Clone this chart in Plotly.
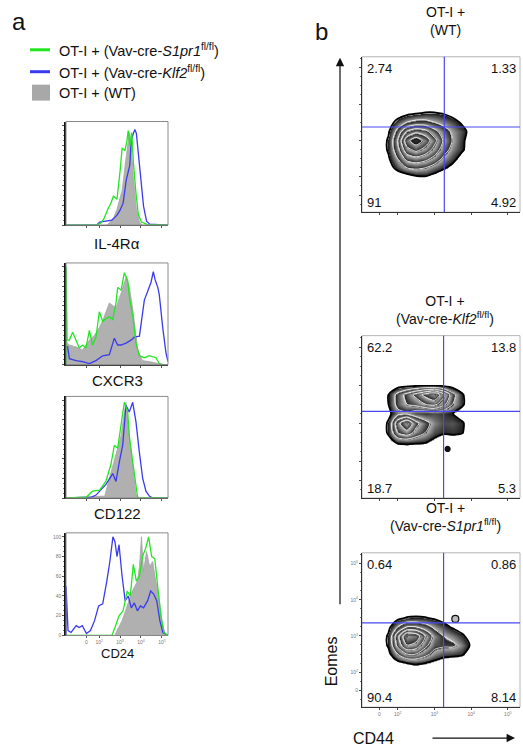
import plotly.graph_objects as go

FONT = "Liberation Sans, Arial, sans-serif"
W, H = 523, 752

# ---------------- data: histograms (x = % of display width, y = % of max) ----------------
HIST_LABELS = ["IL-4R\u03b1", "CXCR3", "CD122", "CD24"]

GREEN_X = [
    [0, 30, 34, 37, 41, 44, 46.5, 50, 53, 55, 57.8, 59.5, 61, 62.7, 64.4, 66, 68.6, 71, 74, 80, 100],
    [0, 0, 1, 3.3, 6.5, 9.8, 13, 16.3, 19.6, 22.9, 26, 29.4, 32.7, 36, 39.2, 42.5, 45.8, 49, 50.7, 54,
     57.2, 60.5, 62, 65.4, 68.6, 71.9, 76.8, 81.7, 88.2, 91.5, 95, 100],
    [0, 20, 26, 33, 39, 44, 47.4, 50.7, 54, 57.2, 60.5, 62, 65.4, 68.6, 70.3, 100],
    [0, 45, 48, 52, 56, 60, 63, 66, 69, 72, 75, 78, 81, 84, 87, 90, 93, 96, 100],
]
GREEN_Y = [
    [0, 0, 2, 6, 16, 22, 29, 26, 54, 77, 75, 83, 95, 80, 93, 64, 32, 10, 3, 0.5, 0],
    [0, 100, 25, 25, 33, 25, 17, 20, 17, 35, 20, 28, 54, 44, 47, 49, 46, 63, 79, 76,
     94, 86, 70, 50, 22, 9, 7, 9, 7, 1, 0, 0],
    [0, 1, 7, 8, 17, 34, 54, 51, 75, 98, 88, 64, 37, 14, 0, 0],
    [0, 0, 8, 20, 25, 45, 40, 72, 55, 60, 80, 88, 100, 80, 78, 50, 20, 3, 0],
]
BLUE_X = [
    [0, 30, 33, 40, 45, 50, 53, 56, 59, 62.5, 64, 66, 67.5, 69, 71, 73, 76, 79, 82, 100],
    [0, 1.6, 3.3, 9.8, 16.3, 22.9, 29.4, 36, 42.5, 47.4, 50.7, 54, 58.8, 63.7, 67, 72, 76.8, 80,
     83.3, 85.6, 87.6, 90, 91.5, 94.8, 98, 100],
    [0, 25, 29.4, 39.2, 45.8, 49, 52.3, 55.6, 58.8, 62, 65.4, 68.6, 71.9, 75.2, 78.4, 81.7, 85, 100],
    [0, 0, 2, 5, 10, 13, 16, 20, 24, 28, 32, 36, 40, 43, 46, 48, 50, 52, 55, 58, 61, 64, 67, 70,
     73, 76, 80, 83, 86, 89, 92, 95, 100],
]
BLUE_Y = [
    [0, 0, 3, 4, 5, 10, 15, 22, 45, 60, 85, 92, 96, 92, 73, 48, 19, 4, 1, 0],
    [18, 18, 6, 4, 3, 1, 4, 9, 10, 27, 20, 20, 22, 25, 28, 29, 66, 76, 84, 95, 86, 79, 71, 38, 12, 3],
    [0, 1, 3, 14, 25, 17, 37, 54, 95, 88, 98, 78, 47, 20, 7, 2, 0, 0],
    [0, 50, 5, 3, 10, 8, 10, 2, 5, 15, 30, 32, 55, 75, 100, 95, 80, 92, 60, 35, 40, 28, 33, 25,
     30, 28, 35, 45, 42, 35, 15, 3, 0],
]
GRAY_X = [
    [0, 40, 43, 47, 50, 55, 58, 60.5, 62, 63.5, 64.4, 66, 69, 72, 75, 100],
    [0, 0, 1, 3.3, 10, 16.3, 23, 28, 32.7, 36, 42.5, 49, 54, 58.8, 62, 65.4, 70.3, 75, 81.7, 90, 95, 100],
    [0, 38, 42.5, 49, 54, 57.2, 58.8, 62, 65.4, 68.6, 72, 100],
    [0, 48, 50, 55, 60, 65, 70, 72, 74, 76, 79, 82, 85, 88, 91, 94, 97, 100],
]
GRAY_Y = [
    [0, 0, 3, 8, 16, 35, 60, 83, 93, 85, 70, 48, 16, 3, 0, 0],
    [0, 100, 22, 20, 18, 15, 25, 30, 38, 45, 63, 58, 73, 89, 80, 57, 15, 4, 3, 1, 0, 0],
    [0, 2, 20, 44, 64, 88, 98, 64, 34, 3, 0, 0],
    [0, 0, 5, 15, 30, 45, 55, 70, 100, 65, 85, 70, 75, 55, 40, 15, 2, 0],
]
HIST_XTICK_VALS = [20, 32.5, 53, 73.5, 94]
HIST_XTICK_TEXT = ["0", "10<sup>2</sup>", "10<sup>3</sup>", "10<sup>4</sup>", "10<sup>5</sup>"]
HIST_YTICKS = [0, 20, 40, 60, 80, 100]

LEGEND_LABELS = [
    "OT-I + (Vav-cre-<i>S1pr1</i><sup>fl/fl</sup>)",
    "OT-I + (Vav-cre-<i>Klf2</i><sup>fl/fl</sup>)",
    "OT-I + (WT)",
]
GREEN, BLUE, GRAY = "#22e622", "#3a3af0", "#b0b0b0"

# ---------------- data: zebra plots (log-decade display units) ----------------
B_TITLES = [
    "OT-I +<br>(WT)",
    "OT-I +<br>(Vav-cre-<i>Klf2</i><sup>fl/fl</sup>)",
    "OT-I +<br>(Vav-cre-<i>S1pr1</i><sup>fl/fl</sup>)",
]
GRID_X = [1.5, 1.75, 2.0, 2.25, 2.5, 2.75, 3.0, 3.25, 3.5, 3.75, 4.0, 4.25, 4.5]
GRID_Y = [1.75, 2.0, 2.25, 2.5, 2.75, 3.0, 3.25, 3.5, 3.75, 4.0]
Z_WT = [
    [0, 0, 0, 0, 0, 0, 0, 0, 0, 0, 0, 0, 0],
    [0, 0, 0, 0.3, 0.8, 0.9, 0.5, 0, 0, 0, 0, 0, 0],
    [0, 0.3, 1.5, 2.5, 2.8, 2.5, 1.8, 1.2, 0.6, 0, 0, 0, 0],
    [0, 0.8, 2.5, 4.5, 5, 4.5, 3.5, 2.2, 1.4, 0.5, 0, 0, 0],
    [0, 1.2, 3.5, 6.5, 7.5, 6.5, 5, 3.2, 2, 1.2, 0.3, 0, 0],
    [0, 1.2, 4, 8, 9.5, 8, 6, 3.8, 2.4, 1.3, 0.3, 0, 0],
    [0, 0.8, 3, 5.5, 6.5, 6, 4.5, 3.2, 2.2, 1.5, 0.5, 0, 0],
    [0, 0.3, 1.5, 2.5, 3, 3, 2.5, 2, 1.5, 0.8, 0, 0, 0],
    [0, 0, 0.2, 0.6, 0.9, 1.1, 1.1, 0.9, 0.5, 0, 0, 0, 0],
    [0, 0, 0, 0, 0, 0, 0, 0, 0, 0, 0, 0, 0],
]
Z_KLF2 = [
    [0, 0, 0, 0, 0, 0, 0, 0, 0, 0, 0, 0, 0],
    [0, 0, 0, 0, 0, 0, 0, 0, 0, 0, 0, 0, 0],
    [0, 0, 0, 0, 0, 0, 0, 0, 0, 0, 0, 0, 0],
    [0, 0.5, 1.2, 1.3, 1.2, 1.1, 0.6, 0, 0, 0, 0, 0, 0],
    [0, 1.2, 4, 5, 3.5, 2.5, 1.5, 1.2, 1.3, 1.1, 0.2, 0, 0],
    [0, 1.2, 5, 7, 4.5, 3, 2, 1.5, 1.6, 1.2, 0.2, 0, 0],
    [0, 0.6, 2, 2.2, 1.5, 1.3, 1.5, 1.3, 1, 0.3, 0, 0, 0],
    [0, 1, 3, 4, 4.5, 5.5, 6, 4.5, 2.5, 1.3, 0, 0, 0],
    [0, 1, 3, 4.5, 6, 7.5, 8.5, 6, 3, 1.2, 0, 0, 0],
    [0, 0, 0.2, 0.4, 0.5, 0.6, 0.5, 0.4, 0.2, 0, 0, 0, 0],
]
Z_S1PR1 = [
    [0, 0, 0, 0, 0, 0, 0, 0, 0, 0, 0, 0, 0],
    [0, 0, 0, 0, 0, 0, 0, 0, 0, 0, 0, 0, 0],
    [0, 0, 0.5, 1, 1.2, 1, 0.6, 0.2, 0, 0, 0, 0, 0],
    [0, 0.6, 2.5, 4, 4, 3, 2, 1.5, 1.4, 1.2, 0.3, 0, 0],
    [0, 1.2, 4.5, 7, 6.5, 4.5, 3, 2.8, 2.8, 2, 0.8, 0, 0],
    [0, 1.2, 5, 8.5, 8, 5.5, 3.5, 2.5, 2, 1.3, 0.3, 0, 0],
    [0, 0.6, 2.5, 4, 4, 3.2, 2.2, 1.5, 0.8, 0.2, 0, 0, 0],
    [0, 0, 0.6, 1.1, 1.2, 1.1, 0.8, 0.4, 0, 0, 0, 0, 0],
    [0, 0, 0, 0, 0, 0, 0, 0, 0, 0, 0, 0, 0],
    [0, 0, 0, 0, 0, 0, 0, 0, 0, 0, 0, 0, 0],
]
ZEBRA = [Z_WT, Z_KLF2, Z_S1PR1]
QUAD_X = [3.27, 3.25, 3.25]
QUAD_Y = [3.37, 3.31, 3.36]
QUAD_PCT = [["2.74", "1.33", "91", "4.92"],
            ["62.2", "13.8", "18.7", "5.3"],
            ["0.64", "0.86", "90.4", "8.14"]]
EXTRA_EVENTS = [[], [(3.36, 2.32)], [(3.57, 3.47)]]
B_TICK_VALS = [1.5, 2, 3, 4, 5]
B_TICK_TEXT = ["0", "10<sup>2</sup>", "10<sup>3</sup>", "10<sup>4</sup>", "10<sup>5</sup>"]

# ---------------- layout helpers ----------------
def fx(p):
    return p / W

def fy(p):
    return 1 - p / H

HIST_BOX = [(66, 168, 122, 226), (66, 168, 264, 366), (66, 168, 398, 500), (66, 168, 535, 638)]
HIST_LABEL_Y = [244, 382, 516, 656]
B_BOX = [(362, 520, 57, 213), (362, 520, 337, 500), (362, 520, 555, 710)]
B_TITLE_Y = [21, 311, 519]

fig = go.Figure()
layout = dict(
    width=W, height=H, margin=dict(l=0, r=0, t=0, b=0),
    paper_bgcolor="white", plot_bgcolor="white", showlegend=False,
    font=dict(family=FONT, color="#111"),
)
shapes, annotations = [], []


def note(x, y, text, size, xanchor="center", yanchor="middle", **kw):
    d = dict(x=fx(x), y=fy(y), xref="paper", yref="paper", text=text, showarrow=False,
             xanchor=xanchor, yanchor=yanchor, font=dict(size=size))
    d.update(kw)
    annotations.append(d)


def ax_id(i):
    return "" if i == 1 else str(i)

# ---------------- histograms ----------------
for k in range(4):
    i = k + 1
    xa, ya = "x" + ax_id(i), "y" + ax_id(i)
    fig.add_trace(go.Scatter(x=GRAY_X[k], y=GRAY_Y[k], mode="lines", fill="tozeroy",
                             fillcolor=GRAY, line=dict(color="#a4a4a4", width=0.8),
                             xaxis=xa, yaxis=ya, hoverinfo="skip"))
    fig.add_trace(go.Scatter(x=BLUE_X[k], y=BLUE_Y[k], mode="lines",
                             line=dict(color=BLUE, width=1.3), xaxis=xa, yaxis=ya))
    fig.add_trace(go.Scatter(x=GREEN_X[k], y=GREEN_Y[k], mode="lines",
                             line=dict(color=GREEN, width=1.3), xaxis=xa, yaxis=ya))
    x0, x1, y0, y1 = HIST_BOX[k]
    last = (k == 3)
    layout["xaxis" + ax_id(i)] = dict(
        domain=[fx(x0), fx(x1)], range=[0, 100], anchor=ya, showgrid=False, zeroline=False,
        showline=True, linecolor="#444", linewidth=1, ticks="outside", ticklen=2, tickcolor="#555",
        tickvals=HIST_XTICK_VALS, ticktext=HIST_XTICK_TEXT, showticklabels=last,
        tickfont=dict(size=5, color="#777"),
    )
    layout["yaxis" + ax_id(i)] = dict(
        domain=[fy(y1), fy(y0)], range=[0, 104], anchor=xa, showgrid=False, zeroline=False,
        showline=True, linecolor="#111", linewidth=1.5, ticks="outside", ticklen=2, tickcolor="#555",
        tickvals=HIST_YTICKS, showticklabels=last, tickfont=dict(size=5, color="#777"),
        minor=dict(ticks="outside", ticklen=1, tickcolor="#777", dtick=5),
    )
    shapes.append(dict(type="rect", xref=xa + " domain", yref=ya + " domain", x0=0, x1=1, y0=0, y1=1,
                       line=dict(color="#8a8a8a", width=1), layer="above"))
    note((x0 + x1) / 2, HIST_LABEL_Y[k], HIST_LABELS[k], 15 if k < 3 else 13)

# ---------------- zebra plots ----------------
ZEBRA_SCALE = [[0, "#ffffff"], [0.0999, "#ffffff"], [0.1, "#151515"], [0.2499, "#b8b8b8"],
               [0.25, "#1e1e1e"], [0.3999, "#bdbdbd"], [0.4, "#222222"], [0.5499, "#c0c0c0"],
               [0.55, "#222222"], [0.6999, "#bbbbbb"], [0.7, "#222222"], [0.8499, "#a0a0a0"],
               [0.85, "#111111"], [1, "#444444"]]
for k in range(3):
    i = k + 5
    xa, ya = "x" + str(i), "y" + str(i)
    fig.add_trace(go.Heatmap(x=GRID_X, y=GRID_Y, z=ZEBRA[k], zsmooth="best", zmin=0, zmax=10,
                             colorscale=ZEBRA_SCALE, showscale=False, xaxis=xa, yaxis=ya,
                             hoverinfo="skip"))
    fig.add_trace(go.Contour(x=GRID_X, y=GRID_Y, z=ZEBRA[k], showscale=False,
                             contours=dict(start=2.5, end=8.5, size=1.5, coloring="none"),
                             line=dict(color="white", width=0.8, smoothing=0.8),
                             xaxis=xa, yaxis=ya, hoverinfo="skip"))
    fig.add_trace(go.Contour(x=GRID_X, y=GRID_Y, z=ZEBRA[k], showscale=False,
                             contours=dict(start=1, end=1, size=1, coloring="none"),
                             line=dict(color="black", width=1.8, smoothing=0.8),
                             xaxis=xa, yaxis=ya, hoverinfo="skip"))
    if EXTRA_EVENTS[k]:
        ex = [p[0] for p in EXTRA_EVENTS[k]]
        ey = [p[1] for p in EXTRA_EVENTS[k]]
        fig.add_trace(go.Scatter(x=ex, y=ey, mode="markers", xaxis=xa, yaxis=ya,
                                 marker=dict(size=5 if k == 1 else 7,
                                             color="#111" if k == 1 else "#bbb",
                                             line=dict(color="#111", width=1.2))))
    x0, x1, y0, y1 = B_BOX[k]
    last = (k == 2)
    layout["xaxis" + str(i)] = dict(
        domain=[fx(x0), fx(x1)], range=[1.03, 5.33], anchor=ya, showgrid=False, zeroline=False,
        showline=True, linecolor="#333", linewidth=1, ticks="outside", ticklen=2, tickcolor="#444",
        tickvals=B_TICK_VALS, ticktext=B_TICK_TEXT, showticklabels=last,
        tickfont=dict(size=5, color="#777"),
    )
    layout["yaxis" + str(i)] = dict(
        domain=[fy(y1), fy(y0)], range=[1.03, 5.3], anchor=xa, showgrid=False, zeroline=False,
        showline=True, linecolor="#333", linewidth=1, ticks="outside", ticklen=2, tickcolor="#444",
        tickvals=B_TICK_VALS, ticktext=B_TICK_TEXT, showticklabels=last,
        tickfont=dict(size=5, color="#777"),
        minor=dict(ticks="outside", ticklen=1, tickcolor="#777", dtick=0.25),
    )
    shapes.append(dict(type="rect", xref=xa + " domain", yref=ya + " domain", x0=0, x1=1, y0=0, y1=1,
                       line=dict(color="#b5b5b5", width=1), layer="below"))
    shapes.append(dict(type="line", xref=xa, yref=ya + " domain", x0=QUAD_X[k], x1=QUAD_X[k], y0=0, y1=1,
                       line=dict(color="#4848f0", width=1.2)))
    shapes.append(dict(type="line", xref=xa + " domain", yref=ya, x0=0, x1=1, y0=QUAD_Y[k], y1=QUAD_Y[k],
                       line=dict(color="#4848f0", width=1.2)))
    pct = QUAD_PCT[k]
    for (tx, ty, xanc, yanc, t) in [(0.02, 0.985, "left", "top", pct[0]), (0.99, 0.985, "right", "top", pct[1]),
                                    (0.02, 0.0, "left", "bottom", pct[2]), (0.99, 0.0, "right", "bottom", pct[3])]:
        annotations.append(dict(x=tx, y=ty, xref=xa + " domain", yref=ya + " domain", text=t,
                                xanchor=xanc, yanchor=yanc, showarrow=False, font=dict(size=13)))
    note(445, B_TITLE_Y[k], B_TITLES[k], 14)

# ---------------- legend ----------------
LEG_Y = [50, 72, 93]
for k, col in enumerate([GREEN, BLUE]):
    shapes.append(dict(type="line", xref="paper", yref="paper", x0=fx(30), x1=fx(50),
                       y0=fy(LEG_Y[k]), y1=fy(LEG_Y[k]), line=dict(color=col, width=3)))
shapes.append(dict(type="rect", xref="paper", yref="paper", x0=fx(32), x1=fx(50), y0=fy(101), y1=fy(85),
                   fillcolor="#a8a8a8", line=dict(width=0)))
for k in range(3):
    note(57, LEG_Y[k], LEGEND_LABELS[k], 14.5, xanchor="left")

# panel letters
note(10, 22, "a", 24, xanchor="left")
note(313, 32, "b", 24, xanchor="left")

# axis arrows and titles for b
annotations.append(dict(x=fx(340), y=fy(58), xref="paper", yref="paper", ax=0, ay=548, text="",
                        showarrow=True, arrowhead=2, arrowsize=1.4, arrowwidth=1.2, arrowcolor="#111"))
annotations.append(dict(x=fx(515), y=fy(741), xref="paper", yref="paper", ax=-84, ay=0, text="",
                        showarrow=True, arrowhead=2, arrowsize=1.4, arrowwidth=1.2, arrowcolor="#111"))
note(331, 664, "Eomes", 16, textangle=-90)
note(373, 741, "CD44", 16)

layout["shapes"] = shapes
layout["annotations"] = annotations
fig.update_layout(**layout)

fig.write_html("out.html", config={"displayModeBar": False},
               post_script="document.body.style.margin='0';")
